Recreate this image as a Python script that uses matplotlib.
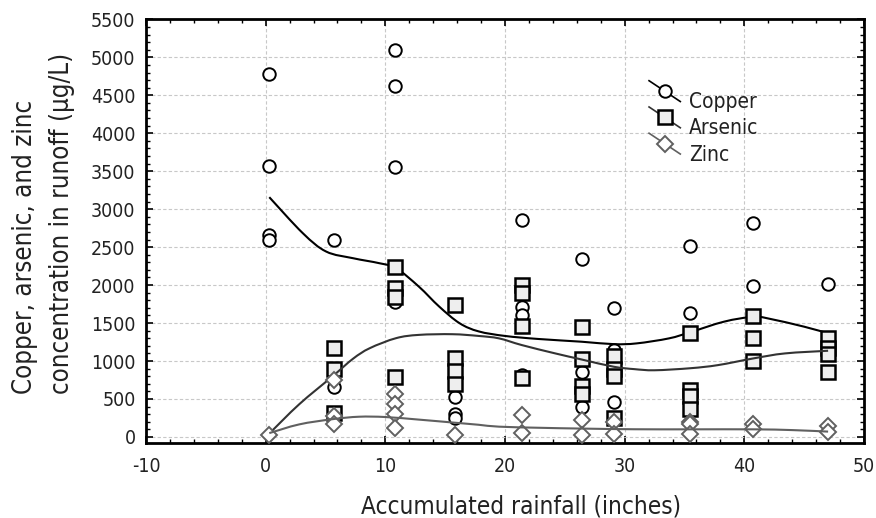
import numpy as np
import matplotlib
matplotlib.use("Agg")
import matplotlib.pyplot as plt
from matplotlib.lines import Line2D
from matplotlib.legend_handler import HandlerBase
from matplotlib.patches import PathPatch
from matplotlib.path import Path
from matplotlib.ticker import MultipleLocator

plt.rcParams['font.family'] = ['Liberation Sans Narrow', 'DejaVu Sans']
plt.rcParams['font.stretch'] = 'condensed'
plt.rcParams['axes.unicode_minus'] = False

# rainfall positions of the sampling events (inches)
rain = [0.3, 5.67, 10.83, 15.83, 21.4, 26.4, 29.1, 35.5, 40.75, 47.0]

# measured concentrations (ug/L) per event
copper = [[4780, 3570, 2660, 2590], [2590, 660], [5100, 4620, 3550, 1780],
          [530, 300, 250], [2860, 1716, 1600, 820], [2340, 858, 390],
          [1700, 1140, 455], [2517, 1628], [2816, 1993], [2015]]
arsenic = [[], [1170, 890, 320], [2243, 1958, 1848, 784],
           [1739, 1038, 863, 696], [2000, 1890, 1460, 780], [1450, 1030, 670, 560],
           [1060, 890, 800, 250], [1373, 616, 540, 374], [1597, 1300, 1003],
           [1300, 1170, 1090, 860]]
zinc = [[25], [750, 270, 175], [570, 430, 300, 120], [30], [290, 50],
        [220, 25], [190, 45], [200, 176, 40], [170, 110], [145, 66]]

# smoothed fits
cu_fit_x = [0.3, 3.1, 5.05, 7.3, 9.5, 10.9, 12.8, 14.5, 16.2, 17.8, 20, 22.8,
            26.4, 29.1, 31, 33.7, 35.5, 38.3, 40.75, 42, 45, 47]
cu_fit_y = [3158, 2684, 2442, 2354, 2288, 2223, 1980, 1717, 1498, 1390, 1330, 1290,
            1254, 1222, 1232, 1298, 1380, 1518, 1584, 1560, 1452, 1364]
as_fit_x = [0.3, 2.8, 5.6, 7.3, 8.7, 10.9, 12.8, 15.6, 17.8, 19.5, 21.4, 24.2,
            26.4, 29.1, 30.8, 32.5, 35.5, 37.8, 40.75, 43.4, 47]
as_fit_y = [44, 430, 800, 1030, 1169, 1301, 1344, 1353, 1330, 1298, 1210, 1100,
            1020, 924, 893, 878, 905, 946, 1034, 1100, 1135]
zn_fit_x = [0.3, 2.8, 5.6, 7.8, 10, 12.8, 15.6, 17.8, 19.5, 23, 26.4, 30.8,
            35.5, 40.75, 44, 47]
zn_fit_y = [50, 165, 234, 266, 262, 228, 190, 160, 135, 120, 110, 101,
            100, 100, 90, 70]


def flatten(groups):
    xs, ys = [], []
    for x, vals in zip(rain, groups):
        xs += [x] * len(vals)
        ys += vals
    return xs, ys


def smooth_path(xs, ys):
    # Catmull-Rom through the read points, drawn as cubic Bezier segments
    p = np.column_stack([xs, ys]).astype(float)
    n = len(p)
    verts, codes = [p[0]], [Path.MOVETO]
    for i in range(n - 1):
        p0, p1, p2, p3 = p[max(i - 1, 0)], p[i], p[i + 1], p[min(i + 2, n - 1)]
        verts += [p1 + (p2 - p0) / 6, p2 - (p3 - p1) / 6, p2]
        codes += [Path.CURVE4] * 3
    return Path(verts, codes)


class DiagHandler(HandlerBase):
    def create_artists(self, legend, orig_handle, xdescent, ydescent,
                       width, height, fontsize, trans):
        x0, x1 = -xdescent, -xdescent + width
        y1 = -ydescent + height * 0.45
        y0 = y1 + 15
        seg = Line2D([x0, x1], [y0, y1], color=orig_handle.get_color(),
                     lw=1.2, transform=trans)
        mk = Line2D([(x0 + x1) / 2], [(y0 + y1) / 2], ls='none',
                    marker=orig_handle.get_marker(),
                    markersize=orig_handle.get_markersize(),
                    markerfacecolor=orig_handle.get_markerfacecolor(),
                    markeredgecolor=orig_handle.get_markeredgecolor(),
                    markeredgewidth=orig_handle.get_markeredgewidth(),
                    transform=trans)
        return [seg, mk]


fig = plt.figure(figsize=(8.76, 5.18), dpi=100)
ax = fig.add_axes([0.1667, 0.1448, 0.8196, 0.8178])

styles = [
    ('Copper', copper, cu_fit_x, cu_fit_y, 'o', 9, 'white', 'black', 1.4, 'black'),
    ('Arsenic', arsenic, as_fit_x, as_fit_y, 's', 10, '#eeeeee', 'black', 1.8, '#333333'),
    ('Zinc', zinc, zn_fit_x, zn_fit_y, 'D', 8, 'white', '#606060', 1.4, '#606060'),
]
handles = []
for i, (name, groups, fx, fy, mk, ms, fc, ec, mew, lc) in enumerate(styles):
    xs, ys = flatten(groups)
    ax.plot(xs, ys, ls='none', marker=mk, ms=ms, mfc=fc, mec=ec, mew=mew,
            zorder=3 + 2 * i)
    ax.add_patch(PathPatch(smooth_path(fx, fy), fill=False, ec=lc, lw=1.5,
                           zorder=4 + 2 * i))
    handles.append(Line2D([], [], color=lc, marker=mk, ms=ms, mfc=fc, mec=ec,
                          mew=mew, label=name))

ax.set_xlim(-10, 50)
ax.set_ylim(-80, 5500)
ax.xaxis.set_major_locator(MultipleLocator(10))
ax.xaxis.set_minor_locator(MultipleLocator(2))
ax.yaxis.set_major_locator(MultipleLocator(500))
ax.yaxis.set_minor_locator(MultipleLocator(100))
ax.tick_params(which='both', direction='in', top=True, right=True,
               labelsize=14, labelcolor='#222222')
ax.tick_params(which='major', length=5, width=1.2)
ax.tick_params(which='minor', length=3, width=1)
ax.tick_params(axis='x', pad=10)
ax.tick_params(axis='y', pad=7.5)
ax.grid(True, which='major', ls=(0, (3, 2)), color='#c8c8c8', lw=0.8)
for s in ax.spines.values():
    s.set_linewidth(2)

ax.set_xlabel('Accumulated rainfall (inches)', fontsize=17.5, color='#222222')
ax.xaxis.set_label_coords(0.522, -0.122)

fig.text(0.0285, 0.523, 'Copper, arsenic, and zinc', rotation=90,
         ha='center', va='center', fontsize=18.5, color='#222222')
fig.text(0.0713, 0.5695, 'concentration in runoff (µg/L)', rotation=90,
         ha='center', va='center', fontsize=18.5, color='#222222')

leg = ax.legend(handles=handles, handler_map={Line2D: DiagHandler()},
                loc='upper left', bbox_to_anchor=(0.689, 0.848), frameon=False,
                fontsize=15, handlelength=1.5, handletextpad=0.4,
                labelspacing=0.3, borderaxespad=0)
for t in leg.get_texts():
    t.set_color('#222222')

fig.savefig('out.png', dpi=100)
